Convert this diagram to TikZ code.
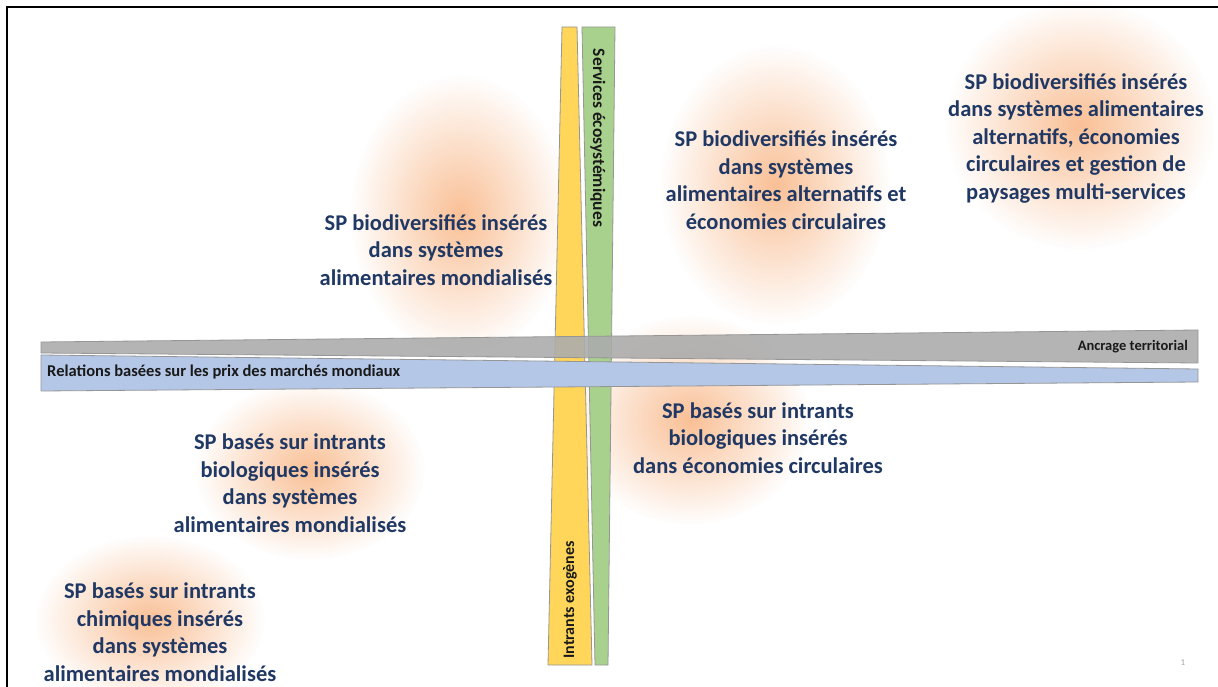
\documentclass[tikz,border=0pt]{standalone}
\usepackage{fontspec}
\setmainfont{Carlito}
\usetikzlibrary{fadings}
\tikzfading[name=glowfade, inner color=transparent!0, outer color=transparent!100]
\definecolor{txtblue}{RGB}{32,56,100}
\definecolor{glowc}{RGB}{246,150,80}
\definecolor{ybar}{RGB}{255,213,90}
\definecolor{gbar}{RGB}{169,209,142}
\definecolor{greybar}{RGB}{172,172,172}
\definecolor{bbar}{RGB}{180,199,231}
\definecolor{edgec}{RGB}{150,150,150}
\begin{document}
\begin{tikzpicture}[x=1pt,y=-1pt,
  quad/.style={font=\fontsize{22.5}{27.5}\selectfont\bfseries, text=txtblue, align=center, inner sep=0pt},
  bartxt/.style={font=\bfseries, text={rgb,255:red,25;green,25;blue,25}, inner sep=0pt},
  barshape/.style={draw=edgec, line width=0.8pt},
  glow/.style={fill=glowc, path fading=glowfade, fill opacity=0.6}]
\useasboundingbox (0,0) rectangle (1218,687);
\fill[white] (0,0) rectangle (1218,687);
% glows
\fill[glow] (460,215) ellipse [x radius=110, y radius=140];
\fill[glow] (775,185) ellipse [x radius=115, y radius=140];
\fill[glow] (1080,125) ellipse [x radius=135, y radius=125];
\fill[glow] (310,470) ellipse [x radius=115, y radius=90];
\fill[glow] (690,420) ellipse [x radius=120, y radius=105];
\fill[glow] (150,620) ellipse [x radius=115, y radius=85];
% frame
\draw[line width=2.5pt] (7,687) -- (7,7) -- (1218,7);
% vertical bars
\draw[barshape, fill=ybar] (562,27) -- (577,27) -- (592,665) -- (548,665) -- cycle;
\draw[barshape, fill=gbar] (582,27) -- (615,27) -- (608,665) -- (595,665) -- cycle;
% horizontal bars
\draw[barshape, fill=greybar, fill opacity=0.9] (41,342) -- (1198,330) -- (1198,363) -- (41,353) -- cycle;
\draw[barshape, fill=bbar] (41,355) -- (1198,369) -- (1198,382) -- (41,391) -- cycle;
% bar labels
\node[bartxt, font=\fontsize{17.5}{20}\selectfont\bfseries, rotate=-90] (serv) at (598,138) {Services écosystémiques};
\node[bartxt, font=\fontsize{16}{18}\selectfont\bfseries, rotate=90] (intr) at (570,600) {Intrants exogènes};
\node[bartxt, font=\fontsize{14.5}{17}\selectfont\bfseries, anchor=east] (ancr) at (1188,347) {Ancrage territorial};
\node[bartxt, font=\fontsize{16.5}{18}\selectfont\bfseries, anchor=west] (rel) at (47,372) {Relations basées sur les prix des marchés mondiaux};
% quadrant texts
\node[quad] (t1) at (436,250) {SP biodiversifiés insérés\\dans systèmes\\alimentaires mondialisés};
\node[quad] (t2) at (786,180) {SP biodiversifiés insérés\\dans systèmes\\alimentaires alternatifs et\\économies circulaires};
\node[quad] (t3) at (1076,138) {SP biodiversifiés insérés\\dans systèmes alimentaires\\alternatifs, économies\\circulaires et gestion de\\paysages multi-services};
\node[quad] (t4) at (290,483) {SP basés sur intrants\\biologiques insérés\\dans systèmes\\alimentaires mondialisés};
\node[quad] (t5) at (758,438) {SP basés sur intrants\\biologiques insérés\\dans économies circulaires};
\node[quad] (t6) at (160,632) {SP basés sur intrants\\chimiques insérés\\dans systèmes\\alimentaires mondialisés};
\node[font=\fontsize{9}{10}\selectfont, text=gray!70, inner sep=0pt] (pg) at (1183,663) {1};
\end{tikzpicture}
\end{document}
